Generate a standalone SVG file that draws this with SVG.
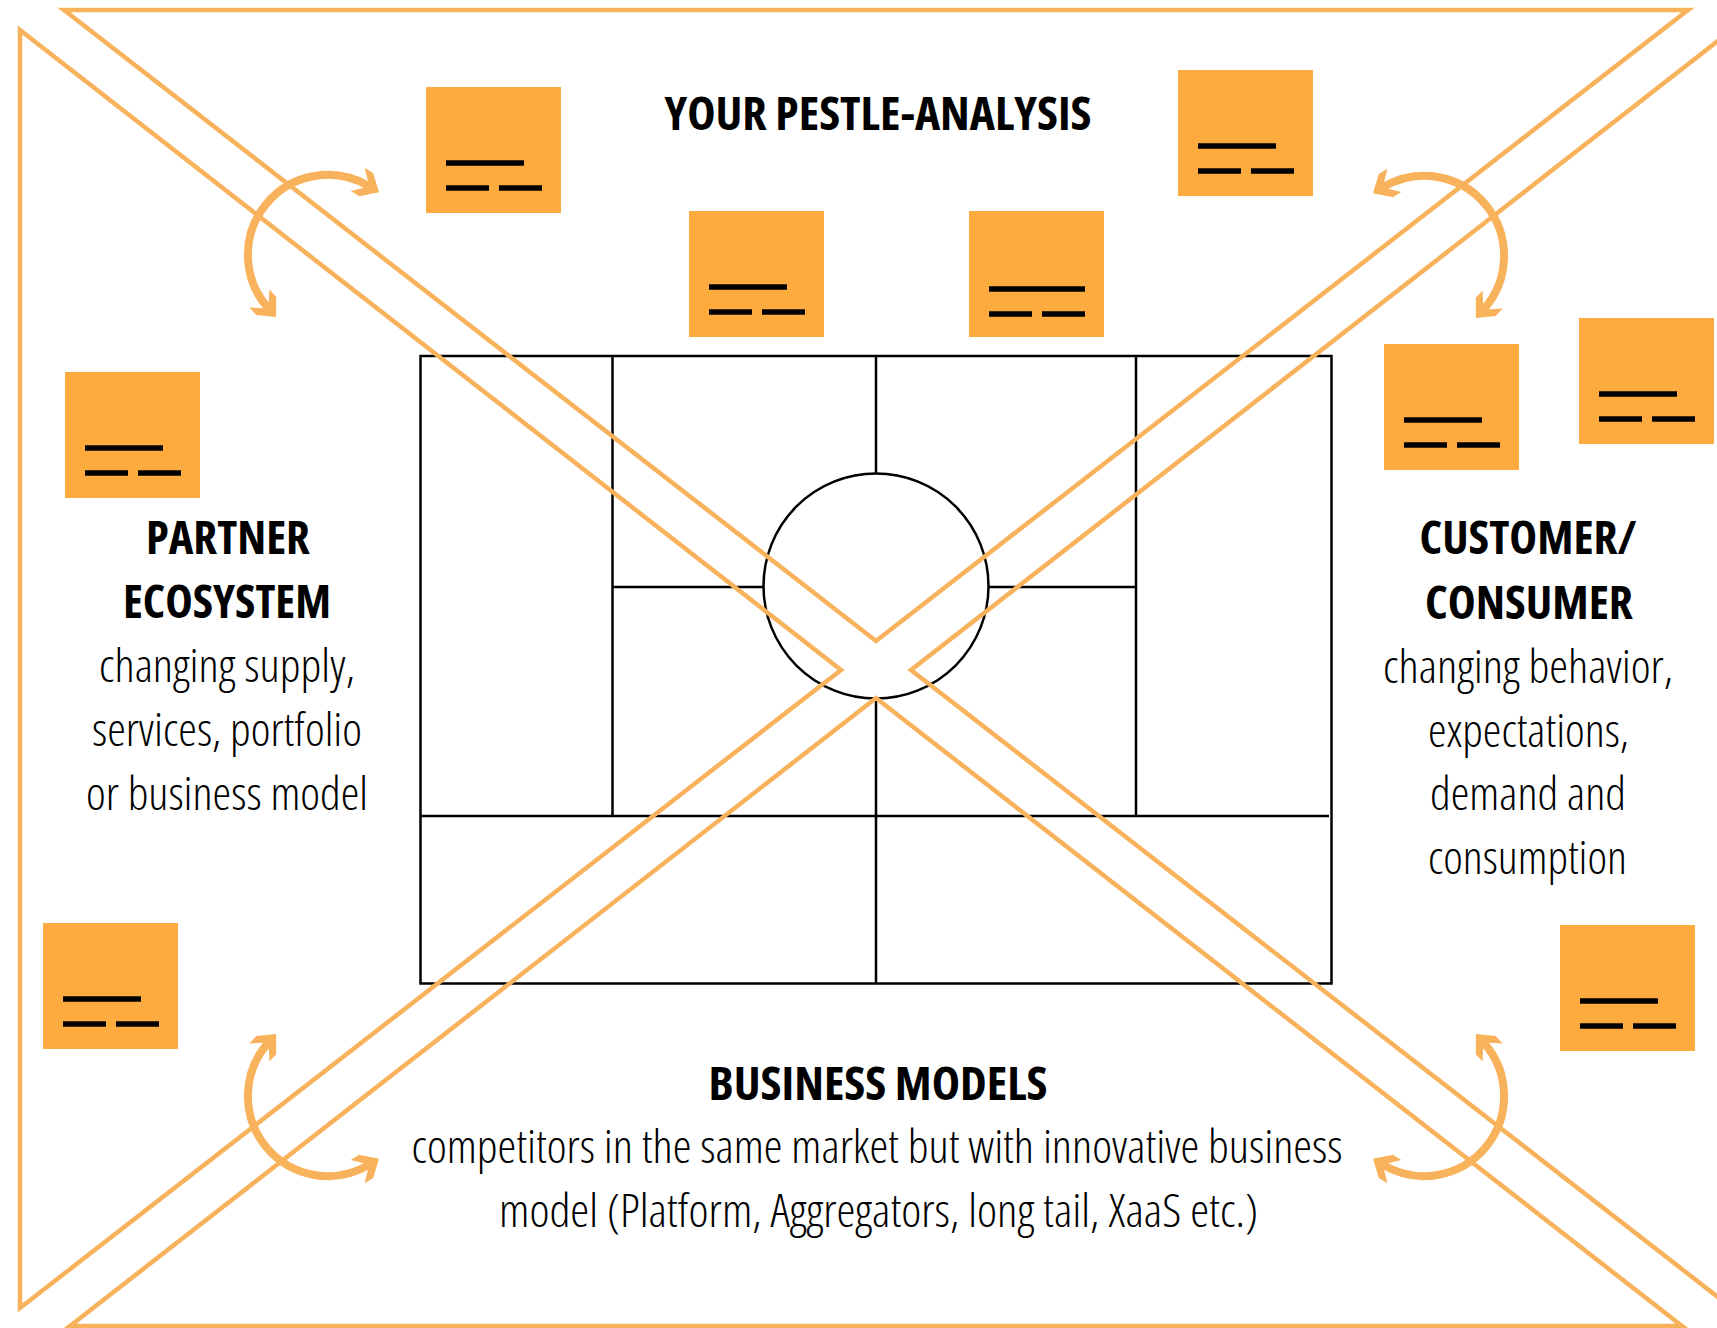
<svg xmlns="http://www.w3.org/2000/svg" width="1717" height="1328" viewBox="0 0 1717 1328">
<style>
.frame{fill:none;stroke:#F8B25B;stroke-width:4.5;stroke-linejoin:miter}
.grid{fill:none;stroke:#000;stroke-width:2.5}
.note{fill:#FDAB3F}
.dash{stroke:#000;stroke-width:5.5}
.arc{fill:none;stroke:#F8B25B;stroke-width:8;marker-start:url(#chev);marker-end:url(#chev)}
.h{font-family:"Open Sans","Liberation Sans",sans-serif;font-weight:700;font-size:46px;font-stretch:condensed;fill:#000;text-anchor:middle}
.b{font-family:"Open Sans","Liberation Sans",sans-serif;font-weight:300;font-size:46px;font-stretch:condensed;fill:#000;text-anchor:middle}
</style>
<defs>
<marker id="chev" markerUnits="userSpaceOnUse" viewBox="-16 -16 32 32" markerWidth="32" markerHeight="32" refX="0" refY="0" orient="auto-start-reverse" overflow="visible">
<path d="M11.5,0 L-3.5,-13.5 L-13.5,-13.5 L0,0 L-13.5,13.5 L-3.5,13.5 Z" fill="#F8B25B"/>
</marker>
<g id="dashes">
<line class="dash" x1="20" y1="76" x2="98" y2="76"/>
<line class="dash" x1="20" y1="101" x2="63" y2="101"/>
<line class="dash" x1="73" y1="101" x2="116" y2="101"/>
</g>
</defs>
<rect width="1717" height="1328" fill="#fff"/>

<g id="canvas-grid">
<rect class="grid" x="420.5" y="356" width="911" height="627.5"/>
<line class="grid" x1="612.5" y1="356" x2="612.5" y2="816"/>
<line class="grid" x1="1136" y1="356" x2="1136" y2="816"/>
<line class="grid" x1="876" y1="356" x2="876" y2="473.5"/>
<line class="grid" x1="876" y1="698.5" x2="876" y2="983.5"/>
<line class="grid" x1="612.5" y1="587" x2="764" y2="587"/>
<line class="grid" x1="988" y1="587" x2="1136" y2="587"/>
<line class="grid" x1="420.5" y1="816" x2="1329" y2="816"/>
<circle class="grid" cx="876" cy="586" r="112.5"/>
</g>

<g id="frame">
<polygon id="tri-top" class="frame" points="64,10 1688,10 876,641"/>
<polygon id="tri-left" class="frame" points="20,30 841,670 20,1308"/>
<polygon id="tri-right" class="frame" points="1732,30 911,670 1732,1308"/>
<polygon id="tri-bottom" class="frame" points="70,1326 876,698 1682,1326"/>
</g>

<g id="note-1"><rect class="note" x="426" y="87" width="135" height="126"/><use href="#dashes" x="426" y="87"/></g>
<g id="note-2"><rect class="note" x="1178" y="70" width="135" height="126"/><use href="#dashes" x="1178" y="70"/></g>
<g id="note-3"><rect class="note" x="689" y="211" width="135" height="126"/><use href="#dashes" x="689" y="211"/></g>
<g id="note-4"><rect class="note" x="969" y="211" width="135" height="126"/>
<line class="dash" x1="989" y1="289" x2="1085" y2="289"/>
<line class="dash" x1="989" y1="314" x2="1032" y2="314"/>
<line class="dash" x1="1042" y1="314" x2="1085" y2="314"/></g>
<g id="note-5"><rect class="note" x="65" y="372" width="135" height="126"/><use href="#dashes" x="65" y="372"/></g>
<g id="note-6"><rect class="note" x="1384" y="344" width="135" height="126"/><use href="#dashes" x="1384" y="344"/></g>
<g id="note-7"><rect class="note" x="1579" y="318" width="135" height="126"/><use href="#dashes" x="1579" y="318"/></g>
<g id="note-8"><rect class="note" x="43" y="923" width="135" height="126"/><use href="#dashes" x="43" y="923"/></g>
<g id="note-9"><rect class="note" x="1560" y="925" width="135" height="126"/><use href="#dashes" x="1560" y="925"/></g>

<g id="connectors">
<path class="arc" d="M369.2,186.4 A80,80 0 0 0 268.5,308.5"/>
<path class="arc" d="M1382.8,187.4 A80,80 0 0 1 1483.5,309.5"/>
<path class="arc" d="M369.2,1164.6 A80,80 0 0 1 268.5,1042.5"/>
<path class="arc" d="M1382.8,1164.6 A80,80 0 0 0 1483.5,1042.5"/>
</g>

<g id="title"><text class="h" x="878" y="129.5" textLength="427" lengthAdjust="spacingAndGlyphs">YOUR PESTLE-ANALYSIS</text></g>

<g id="partner-ecosystem">
<text class="h" x="228" y="554" textLength="164" lengthAdjust="spacingAndGlyphs">PARTNER</text>
<text class="h" x="227" y="618" textLength="208" lengthAdjust="spacingAndGlyphs">ECOSYSTEM</text>
<text class="b" x="227" y="682" textLength="256" lengthAdjust="spacingAndGlyphs">changing supply,</text>
<text class="b" x="227" y="746" textLength="270" lengthAdjust="spacingAndGlyphs">services, portfolio</text>
<text class="b" x="227" y="810" textLength="282" lengthAdjust="spacingAndGlyphs">or business model</text>
</g>

<g id="customer-consumer">
<text class="h" x="1528" y="553.5" textLength="217" lengthAdjust="spacingAndGlyphs">CUSTOMER/</text>
<text class="h" x="1529" y="619" textLength="208" lengthAdjust="spacingAndGlyphs">CONSUMER</text>
<text class="b" x="1528" y="682.5" textLength="290" lengthAdjust="spacingAndGlyphs">changing behavior,</text>
<text class="b" x="1528.5" y="746.5" textLength="201" lengthAdjust="spacingAndGlyphs">expectations,</text>
<text class="b" x="1528" y="810" textLength="196" lengthAdjust="spacingAndGlyphs">demand and</text>
<text class="b" x="1527.5" y="874" textLength="199" lengthAdjust="spacingAndGlyphs">consumption</text>
</g>

<g id="business-models">
<text class="h" x="878" y="1099.5" textLength="339" lengthAdjust="spacingAndGlyphs">BUSINESS MODELS</text>
<text class="b" x="877" y="1163" textLength="931" lengthAdjust="spacingAndGlyphs">competitors in the same market but with innovative business</text>
<text class="b" x="878.5" y="1227" textLength="759" lengthAdjust="spacingAndGlyphs">model (Platform, Aggregators, long tail, XaaS etc.)</text>
</g>
</svg>
